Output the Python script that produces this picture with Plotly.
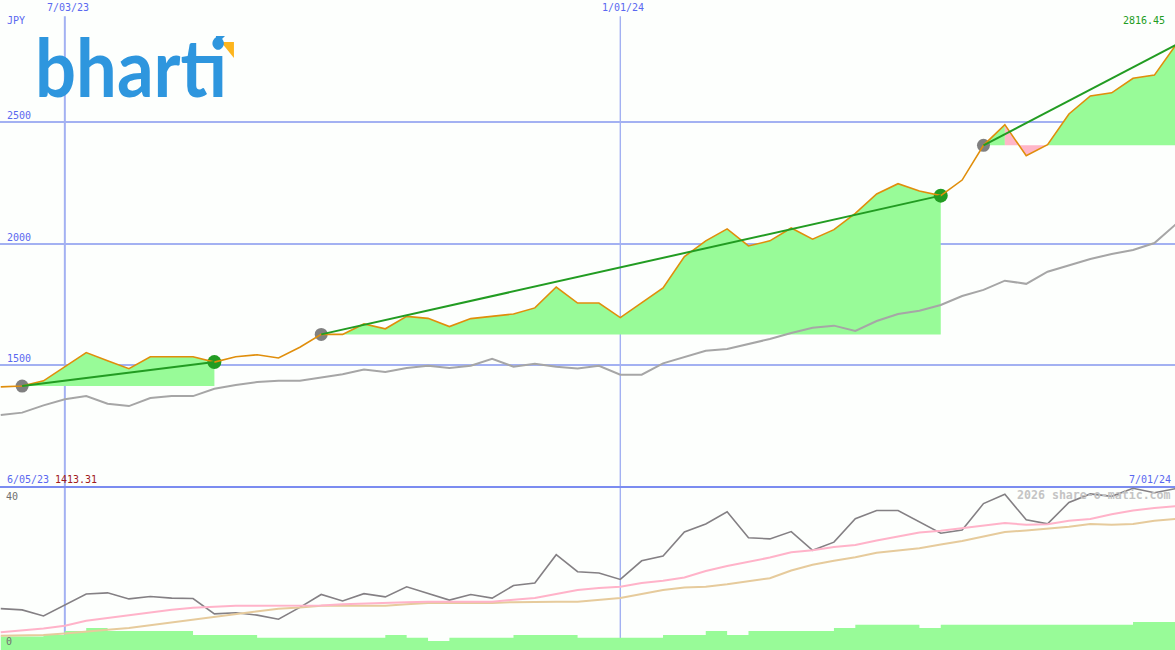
import numpy as np
import pandas as pd
import plotly.graph_objects as go
from plotly.subplots import make_subplots

# weekly closes, first visible week to last
dates = pd.date_range('2023-06-12', periods=56, freq='7D')

price = [1410, 1413.31, 1435, 1493, 1551, 1518, 1485, 1534, 1534, 1534,
         1512, 1534, 1542, 1529, 1573, 1626, 1626, 1669, 1649, 1700,
         1692, 1658, 1691, 1702, 1710, 1735, 1821, 1755, 1755, 1695,
         1756, 1817, 1946, 2011, 2060, 1990, 2011, 2064, 2018, 2057,
         2124, 2204, 2246, 2216, 2197, 2261, 2404, 2489, 2361, 2407,
         2533, 2607, 2620, 2680, 2693, 2816.45]

# grey comparison series
compare = [1294, 1304, 1334, 1359, 1372, 1341, 1331, 1364, 1372, 1372,
           1402, 1418, 1430, 1435, 1435, 1448, 1462, 1481, 1471, 1488,
           1497, 1488, 1497, 1526, 1493, 1505, 1493, 1486, 1497, 1460,
           1460, 1507, 1534, 1559, 1566, 1586, 1607, 1632, 1653, 1662,
           1640, 1681, 1710, 1723, 1747, 1784, 1809, 1847, 1834, 1884,
           1909, 1936, 1957, 1973, 2002, 2079]

# lower panel
indicator = [10.2, 9.9, 8.4, 11.1, 13.8, 14.1, 12.6, 13.2, 12.8, 12.7,
             8.9, 9.2, 8.6, 7.6, 10.5, 13.7, 12.1, 13.9, 13.1, 15.6,
             14.0, 12.3, 13.7, 12.8, 15.9, 16.5, 23.5, 19.3, 19.0, 17.4,
             22.0, 23.2, 29.1, 31.1, 34.1, 27.7, 27.4, 29.2, 24.6, 26.6,
             32.4, 34.4, 34.4, 31.5, 28.8, 29.6, 36.1, 38.4, 32.1, 31.1,
             36.4, 38.5, 37.9, 39.9, 38.8, 39.8]

avg_fast = [4.4, 4.9, 5.3, 6.0, 7.2, 7.9, 8.6, 9.2, 9.9, 10.4,
            10.6, 10.9, 10.9, 10.9, 11.0, 11.0, 11.3, 11.5, 11.6, 11.8,
            11.9, 11.9, 11.9, 11.9, 12.4, 12.8, 13.8, 14.8, 15.3, 15.6,
            16.5, 17.1, 17.9, 19.5, 20.7, 21.7, 22.8, 24.1, 24.6, 25.4,
            25.9, 27.0, 28.0, 29.0, 29.4, 30.0, 30.6, 31.3, 30.9, 31.0,
            31.9, 32.3, 33.5, 34.4, 35.0, 35.5]

avg_slow = [3.5, 3.6, 3.7, 4.1, 4.6, 5.0, 5.4, 6.1, 6.7, 7.4,
            8.1, 8.8, 9.6, 10.2, 10.5, 10.9, 10.9, 10.9, 10.9, 11.3,
            11.6, 11.6, 11.6, 11.6, 11.8, 11.9, 11.9, 11.9, 12.3, 12.8,
            13.8, 14.8, 15.4, 15.6, 16.2, 16.9, 17.7, 19.6, 21.0, 22.0,
            22.9, 24.0, 24.5, 25.1, 26.0, 26.9, 28.0, 29.1, 29.5, 29.9,
            30.4, 31.1, 30.9, 31.1, 31.9, 32.3]

volume = [3.3, 3.3, 3.7, 4.7, 5.4, 4.7, 4.7, 4.7, 4.7, 3.7,
          3.7, 3.7, 3.0, 3.0, 3.0, 3.0, 3.0, 3.0, 3.7, 3.0,
          2.2, 3.0, 3.0, 3.0, 3.7, 3.7, 3.7, 3.0, 3.0, 3.0,
          3.0, 3.7, 3.7, 4.7, 3.7, 4.7, 4.7, 4.7, 4.7, 5.4,
          6.2, 6.2, 6.2, 5.4, 6.2, 6.2, 6.2, 6.2, 6.2, 6.2,
          6.2, 6.2, 6.2, 6.9, 6.9, 6.9]

# trades, as week numbers into the lists above
entries = [1, 15, 46]
exits = [10, 44, 55]

price_ticks = [1500, 2000, 2500]
date_lines = ['2023-07-03', '2024-01-01']
date_labels = ['7/03/23', '1/01/24']

GRID = '#a3b1f2'
BLUE = '#5a68f0'
GREEN_FILL = '#98fb98'
PINK_FILL = '#ffb6c8'

fig = make_subplots(rows=2, cols=1, shared_xaxes=True, vertical_spacing=0,
                    row_heights=[487, 163])


def add_line(x, y, color, width=2, row=1):
    fig.add_trace(go.Scatter(x=x, y=y, mode='lines', hoverinfo='skip',
                             line=dict(color=color, width=width)), row=row, col=1)


def add_patch(first, last, base, color):
    xs = list(dates[first:last + 1]) + [dates[last], dates[first]]
    ys = price[first:last + 1] + [base, base]
    fig.add_trace(go.Scatter(x=xs, y=ys, mode='lines', fill='toself', fillcolor=color,
                             line=dict(width=0), hoverinfo='skip'), row=1, col=1)


# shaded area of each trade, joined into runs of the same colour
for a, b in zip(entries, exits):
    base = price[a]
    start = a
    for k in range(a, b):
        losing = price[k] < base or price[k + 1] < base
        next_losing = k + 1 < b and (price[k + 1] < base or price[k + 2] < base)
        if k + 1 == b or losing != next_losing:
            add_patch(start, k + 1, base, PINK_FILL if losing else GREEN_FILL)
            start = k + 1

add_line(dates, compare, '#a6a6a6')
for a, b in zip(entries, exits):
    fig.add_trace(go.Scatter(x=[dates[a]], y=[price[a]], mode='markers', hoverinfo='skip',
                             marker=dict(color='#808080', size=13)), row=1, col=1)
for b in exits[:-1]:
    fig.add_trace(go.Scatter(x=[dates[b]], y=[price[b]], mode='markers', hoverinfo='skip',
                             marker=dict(color='#229c22', size=14)), row=1, col=1)
add_line(dates, price, '#e08e0b', width=1.6)
for a, b in zip(entries, exits):
    add_line([dates[a], dates[b]], [price[a], price[b]], '#229c22')

# lower panel
fig.add_trace(go.Scatter(x=dates, y=volume, mode='lines', fill='tozeroy', fillcolor=GREEN_FILL,
                         line=dict(width=0, shape='hv'), hoverinfo='skip'), row=2, col=1)
add_line(dates, indicator, '#848084', width=1.6, row=2)
add_line(dates, avg_slow, '#e6cb9c', row=2)
add_line(dates, avg_fast, '#ffb3c9', row=2)

shift = pd.Timedelta(hours=6)
fig.update_xaxes(range=[dates[0] - shift, dates[-1] - shift], showgrid=False, zeroline=False,
                 showticklabels=False, ticks='', showline=False)
fig.update_yaxes(range=[998, 3002], tickvals=price_ticks, showticklabels=False, ticks='',
                 showgrid=True, gridcolor=GRID, gridwidth=2, zeroline=False, row=1, col=1)
fig.update_yaxes(range=[0, 40.2], showgrid=False, zeroline=False, showticklabels=False,
                 ticks='', row=2, col=1)

shapes = [dict(type='line', xref='x', yref='paper', x0=date_lines[0], x1=date_lines[0],
               y0=0, y1=0.975, line=dict(color=GRID, width=2), layer='below'),
          dict(type='line', xref='x', yref='paper', x0=date_lines[1], x1=date_lines[1],
               y0=0, y1=0.975, line=dict(color=GRID, width=1.4), layer='below'),
          dict(type='line', xref='paper', yref='paper', x0=0, x1=1, y0=0.2508, y1=0.2508,
               line=dict(color='#7b8cf0', width=2), layer='below'),
          # logo triangles
          dict(type='path', xref='paper', yref='paper', line=dict(width=0), fillcolor='#2e96de',
               path='M 0.1838 0.9446 L 0.1915 0.9446 L 0.1838 0.9308 Z'),
          dict(type='path', xref='paper', yref='paper', line=dict(width=0), fillcolor='#fdb51d',
               path='M 0.1881 0.9354 L 0.1991 0.9354 L 0.1991 0.9108 Z')]

MONO = 'DejaVu Sans Mono'


def label(text, x, y, color=BLUE, xanchor='left', xref='paper', yref='paper', size=10, yanchor='bottom',
          family=MONO, xshift=0):
    return dict(text=text, x=x, y=y, xref=xref, yref=yref, showarrow=False, xanchor=xanchor,
                yanchor=yanchor, font=dict(family=family, size=size, color=color), borderpad=0,
                xshift=xshift)


notes = [label('bharti', 0.1111, 0.823, color='#2e96de', size=81, family='Lato', xanchor='center')]
notes += [label(str(t), 0.005, t, yref='y') for t in price_ticks]
notes += [label(t, d, 0.9785, xref='x', xanchor='center', xshift=3) for t, d in zip(date_labels, date_lines)]
notes += [label('JPY', 0.005, 0.9585),
          label('2816.45', 0.9925, 0.9585, color='#229c22', xanchor='right'),
          label('6/05/23', 0.0055, 0.2525),
          label('1413.31', 0.0458, 0.2525, color='#a01c1c'),
          label('7/01/24', 0.9975, 0.2525, xanchor='right'),
          label('40', 0.0045, 0.2255, color='#707070'),
          label('0', 0.0045, 0.003, color='#707070'),
          label('<b>2026 share-o-matic.com</b>', 0.9975, 0.2255, color='#c4c4c4', xanchor='right', size=11.6)]

fig.update_layout(width=1175, height=650, margin=dict(l=0, r=0, t=0, b=0), showlegend=False,
                  paper_bgcolor='#fdfffd', plot_bgcolor='#fdfffd', shapes=shapes, annotations=notes)

# squeeze the logo word to its width in the original
squeeze = """
document.body.style.margin='0';
var word = document.querySelector('.annotation-text');
word.setAttribute('textLength', '192');
word.setAttribute('lengthAdjust', 'spacingAndGlyphs');
word.style.fontWeight = '700';
word.style.strokeWidth = '0';
"""
fig.write_html("out.html", config={'displayModeBar': False}, post_script=squeeze)
